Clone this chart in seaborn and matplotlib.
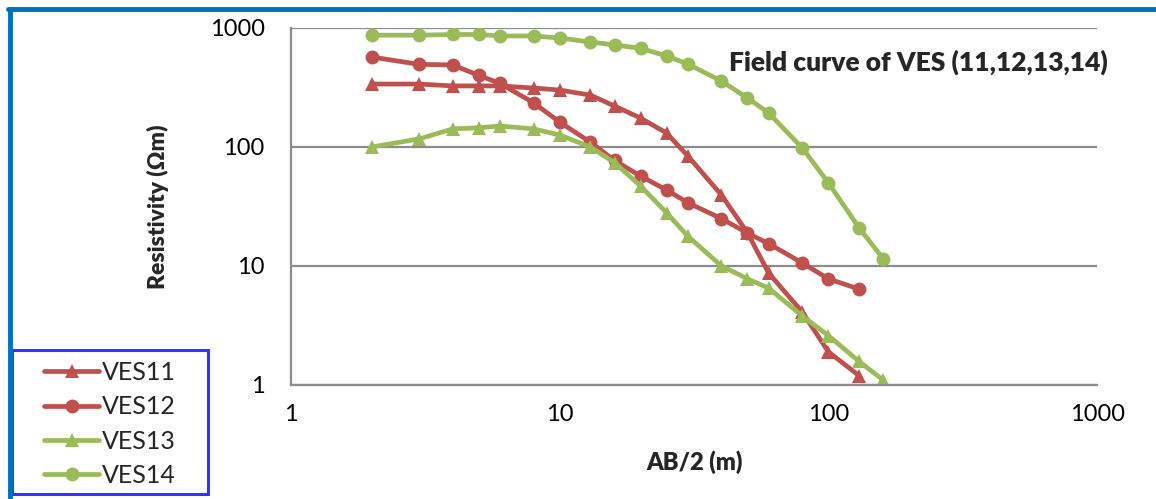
import pandas as pd
import matplotlib
matplotlib.use("Agg")
import matplotlib.pyplot as plt
import seaborn as sns
from matplotlib.lines import Line2D
from matplotlib.patches import Rectangle

# AB/2 spacings (m)
ab2 = [2, 3, 4, 5, 6, 8, 10, 13, 16, 20, 25, 30, 40, 50, 60, 80, 100, 130, 160]

# apparent resistivity (ohm m)
ves11 = [338, 338, 326, 326, 326, 313, 301, 273, 221, 175, 131, 84, 39.5, 19, 8.7, 4.1, 1.9, 1.2]
ves12 = [570, 495, 489, 400, 342, 235, 162, 110, 77, 57, 43.5, 34, 25, 18.9, 15.4, 10.6, 7.8, 6.4]
ves13 = [100, 117, 142, 145, 150, 142, 126, 100, 74, 47, 28, 17.8, 10, 7.8, 6.5, 3.8, 2.6, 1.58, 1.1]
ves14 = [870, 870, 882, 882, 857, 857, 824, 763, 720, 675, 582, 498, 358, 258, 193, 98, 50, 21, 11.5]

names = ["VES11", "VES12", "VES13", "VES14"]
series = [ves11, ves12, ves13, ves14]

rows = []
for name, vals in zip(names, series):
    for x, v in zip(ab2, vals):
        rows.append({"ab2": x, "rho": v, "curve": name})
df = pd.DataFrame(rows)

red = "#C0504D"
green = "#9BBB59"
palette = {"VES11": red, "VES12": red, "VES13": green, "VES14": green}
markers = {"VES11": "^", "VES12": "o", "VES13": "^", "VES14": "o"}

sns.set_style("white")
plt.rcParams["font.family"] = ["Lato", "DejaVu Sans"]

fig = plt.figure(figsize=(11.56, 4.99), dpi=100)
ax = fig.add_axes([0.2517, 0.2285, 0.6973, 0.7154])

sns.lineplot(data=df, x="ab2", y="rho", hue="curve", style="curve",
             palette=palette, markers=markers, dashes=False, sort=False,
             linewidth=3.4, markersize=10, markeredgewidth=0, ax=ax)

ax.set_xscale("log")
ax.set_yscale("log")
ax.set_xlim(1, 1000)
ax.set_ylim(1, 1000)
ax.set_xticks([1, 10, 100, 1000])
ax.set_xticklabels(["1", "10", "100", "1000"])
ax.set_yticks([1, 10, 100, 1000])
ax.set_yticklabels(["1", "10", "100", "1000"])
ax.minorticks_off()

grey = "#8C8C8C"
ax.grid(axis="y", color=grey, linewidth=1.6)
ax.grid(axis="x", visible=False)
for side in ["top", "right"]:
    ax.spines[side].set_visible(False)
for side in ["left", "bottom"]:
    ax.spines[side].set_color(grey)
    ax.spines[side].set_linewidth(1.6)
ax.tick_params(axis="both", which="major", direction="out", length=6,
               width=1.6, color=grey, labelsize=17, labelcolor="black")
ax.tick_params(axis="y", pad=13)
ax.tick_params(axis="x", pad=8)

ax.set_xlabel("AB/2 (m)", fontsize=17, fontweight="heavy", labelpad=18)
ax.set_ylabel("Resistivity (Ωm)", fontsize=16.5, fontweight="heavy", labelpad=29)
ax.text(0.778, 0.905, "Field curve of VES (11,12,13,14)", transform=ax.transAxes,
        ha="center", va="center", fontsize=19, fontweight="heavy")

handles, labels = ax.get_legend_handles_labels()
ax.get_legend().remove()
leg = fig.legend(handles, labels, loc="center",
                 bbox_to_anchor=(110 / 1156, 1 - 424 / 499),
                 fontsize=18, frameon=False,
                 handlelength=2.2, handletextpad=0.1, labelspacing=0.45,
                 borderpad=0)

# blue box around the legend
fig.add_artist(Rectangle((12 / 1156, 1 - 494 / 499), 196 / 1156, 144 / 499,
                         transform=fig.transFigure, fill=False,
                         edgecolor="#3333FF", linewidth=2.2))

# partial blue frame around the figure
fig.add_artist(Line2D([10 / 1156, 10 / 1156], [0, 1 - 9 / 499],
                      transform=fig.transFigure, color="#0070C0", linewidth=3.5))
fig.add_artist(Line2D([8 / 1156, 1], [1 - 9 / 499, 1 - 9 / 499],
                      transform=fig.transFigure, color="#0070C0", linewidth=3.5))

fig.savefig("out.png", dpi=100)
